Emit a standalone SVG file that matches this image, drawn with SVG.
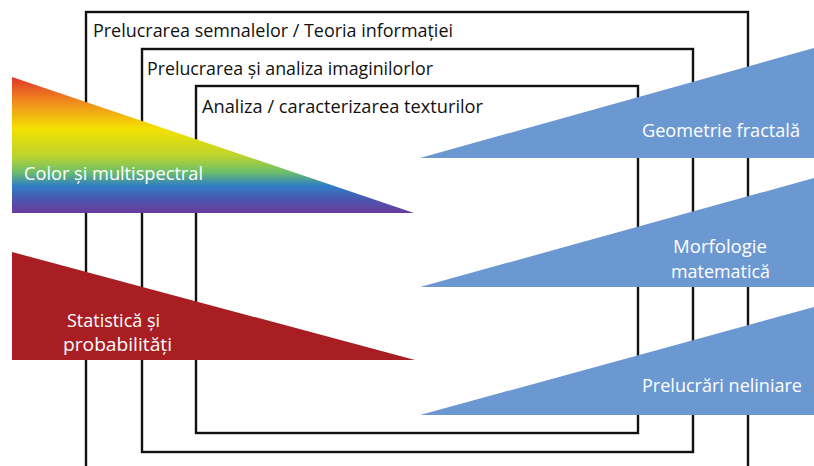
<svg xmlns="http://www.w3.org/2000/svg" width="814" height="466" viewBox="0 0 814 466">
<defs>
<linearGradient id="rainbow" x1="0" y1="77" x2="0" y2="213" gradientUnits="userSpaceOnUse">
<stop offset="0" stop-color="#E0352B"/>
<stop offset="0.18" stop-color="#F08A1E"/>
<stop offset="0.38" stop-color="#F4E100"/>
<stop offset="0.58" stop-color="#BCD42E"/>
<stop offset="0.70" stop-color="#6DBE6A"/>
<stop offset="0.80" stop-color="#2F7EC6"/>
<stop offset="0.90" stop-color="#4A56B0"/>
<stop offset="1" stop-color="#6A3C9A"/>
</linearGradient>
<style>
.box{fill:none;stroke:#111;stroke-width:2.4}
.title{font-family:"Open Sans","Liberation Sans",sans-serif;font-size:17.5px;fill:#111}
.lbl{font-family:"Open Sans","Liberation Sans",sans-serif;font-size:17.5px;fill:#fff}
.blue{fill:#6C98D2}
.red{fill:#A91E23}
</style>
</defs>
<rect width="814" height="466" fill="#fff"/>
<g id="box-outer">
<rect class="box" x="86" y="12" width="662" height="470"/>
<text class="title" x="93" y="37" textLength="360" lengthAdjust="spacingAndGlyphs">Prelucrarea semnalelor / Teoria informației</text>
</g>
<g id="box-middle">
<rect class="box" x="142" y="49" width="551" height="403"/>
<text class="title" x="147" y="75" textLength="286" lengthAdjust="spacingAndGlyphs">Prelucrarea și analiza imaginilorlor</text>
</g>
<g id="box-inner">
<rect class="box" x="196" y="86" width="442" height="347"/>
<text class="title" x="202" y="113" textLength="281" lengthAdjust="spacingAndGlyphs">Analiza / caracterizarea texturilor</text>
</g>
<g id="tri-color">
<polygon points="12,77 414,213 12,213" fill="url(#rainbow)"/>
<text class="lbl" x="24" y="180" textLength="179" lengthAdjust="spacingAndGlyphs">Color și multispectral</text>
</g>
<g id="tri-stat">
<polygon class="red" points="12,252 415,360 12,360"/>
<text class="lbl" x="67" y="327" textLength="93" lengthAdjust="spacingAndGlyphs">Statistică și</text>
<text class="lbl" x="63" y="351" textLength="109" lengthAdjust="spacingAndGlyphs">probabilități</text>
</g>
<g id="tri-fractal">
<polygon class="blue" points="420,158 814,48 814,158"/>
<text class="lbl" x="642" y="137" textLength="158" lengthAdjust="spacingAndGlyphs">Geometrie fractală</text>
</g>
<g id="tri-morph">
<polygon class="blue" points="420,287 814,178 814,287"/>
<text class="lbl" x="673" y="253" textLength="94" lengthAdjust="spacingAndGlyphs">Morfologie</text>
<text class="lbl" x="671" y="278" textLength="99" lengthAdjust="spacingAndGlyphs">matematică</text>
</g>
<g id="tri-nonlin">
<polygon class="blue" points="420,415 814,307 814,415"/>
<text class="lbl" x="642" y="392" textLength="160" lengthAdjust="spacingAndGlyphs">Prelucrări neliniare</text>
</g>
<g id="connectors"></g>
</svg>
